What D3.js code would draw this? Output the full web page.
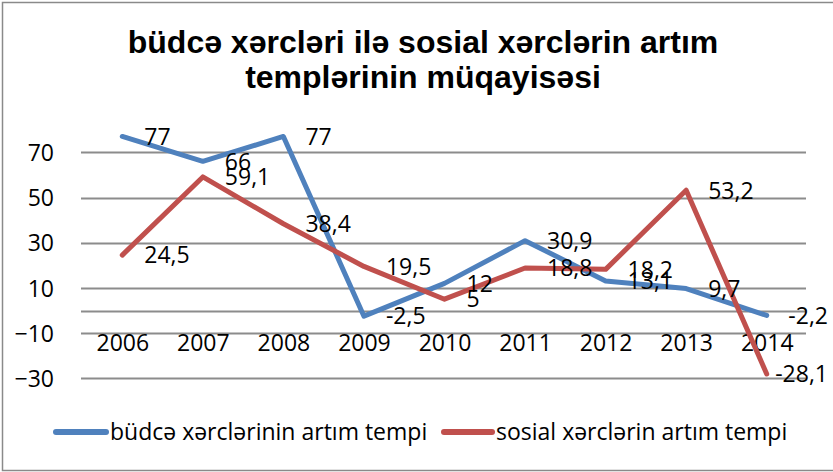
<!DOCTYPE html>
<html>
<head>
<meta charset="utf-8">
<script src="https://cdn.jsdelivr.net/npm/d3@7"></script>
<style>
  html, body { margin: 0; padding: 0; background: #fff; }
  svg { display: block; }
</style>
</head>
<body>
<svg id="chart" width="833" height="472"></svg>
<script>
const years = ["2006","2007","2008","2009","2010","2011","2012","2013","2014"];
const budgetGrowth = [77, 66, 77, -2.5, 12, 30.9, 13.1, 9.7, -2.2];
const socialGrowth = [24.5, 59.1, 38.4, 19.5, 5, 18.8, 18.2, 53.2, -28.1];
const yTicks = [-30, -10, 10, 30, 50, 70];
const titleLines = ["büdcə xərcləri ilə sosial xərclərin artım", "templərinin müqayisəsi"];
const seriesNames = ["büdcə xərclərinin artım tempi", "sosial xərclərin artım tempi"];
const seriesColors = ["#4F81BD", "#C0504D"];

const svg = d3.select("#chart");
const labelFont = "'Open Sans', Lato, sans-serif";
const fs = 23;

// frame
svg.append("rect").attr("x", 2.5).attr("y", 2.5).attr("width", 860).attr("height", 468)
  .attr("fill", "#fff").attr("stroke", "#8a8a8a").attr("stroke-width", 1.5);

const x = d3.scalePoint().domain(years).range([82, 807]).padding(0.5);
const y = d3.scaleLinear().domain([-30, 70]).range([378.3, 152.3]);

// gridlines
const grid = svg.append("g");
grid.selectAll("line").data(yTicks.concat([0])).join("line")
  .attr("x1", 81).attr("x2", 806)
  .attr("y1", d => Math.round(y(d)) + 0.5).attr("y2", d => Math.round(y(d)) + 0.5)
  .attr("stroke", "#8c8c8c").attr("stroke-width", 2);

// y axis labels
const yAxis = d3.axisLeft(y).tickValues(yTicks).tickSize(0).tickPadding(0).tickFormat(d3.format("d"));
const yg = svg.append("g").attr("transform", "translate(54,0)").call(yAxis);
yg.select(".domain").remove();
yg.selectAll("text").attr("font-family", labelFont).attr("font-size", fs).attr("fill", "#000")
  .attr("dy", "0.36em");

// x axis labels
const xAxis = d3.axisBottom(x).tickSize(0).tickPadding(0);
const xg = svg.append("g").attr("transform", "translate(0,333)").call(xAxis);
xg.select(".domain").remove();
xg.selectAll("text").attr("font-family", labelFont).attr("font-size", fs).attr("fill", "#000")
  .attr("dy", "0.8em");

// lines
const series = [budgetGrowth, socialGrowth];
const line = d3.line().x((d, i) => x(years[i])).y(d => y(d));
series.forEach((vals, s) => {
  svg.append("path").datum(vals).attr("d", line)
    .attr("fill", "none").attr("stroke", seriesColors[s]).attr("stroke-width", 5)
    .attr("stroke-linejoin", "round").attr("stroke-linecap", "round");
});

// data labels
const fmt = v => String(v).replace(".", ",");
series.forEach((vals, s) => {
  const g = svg.append("g");
  vals.forEach((v, i) => {
    const t = g.append("text").text(fmt(v))
      .attr("font-family", labelFont).attr("font-size", fs).attr("fill", "#000")
      .attr("y", y(v)).attr("dy", "0.36em");
    const w = t.node().getComputedTextLength();
    const xx = Math.min(x(years[i]) + 22, 828 - w);
    t.attr("x", xx);
  });
});

// title
const tg = svg.append("g");
titleLines.forEach((ln, i) => {
  tg.append("text").text(ln)
    .attr("x", 423).attr("y", 53 + i * 35)
    .attr("text-anchor", "middle")
    .attr("font-family", "'Liberation Sans', Arial, sans-serif")
    .attr("font-weight", "bold").attr("font-size", 32).attr("fill", "#000");
});

// legend
const legendItems = [{x0: 53, x1: 109, tx: 110}, {x0: 441, x1: 495, tx: 496}];
legendItems.forEach((it, s) => {
  svg.append("line").attr("x1", it.x0 + 3).attr("x2", it.x1 - 3).attr("y1", 432).attr("y2", 432)
    .attr("stroke", seriesColors[s]).attr("stroke-width", 6).attr("stroke-linecap", "round");
  svg.append("text").text(seriesNames[s]).attr("x", it.tx).attr("y", 432).attr("dy", "0.36em")
    .attr("font-family", labelFont).attr("font-size", fs).attr("fill", "#000");
});
</script>
</body>
</html>
